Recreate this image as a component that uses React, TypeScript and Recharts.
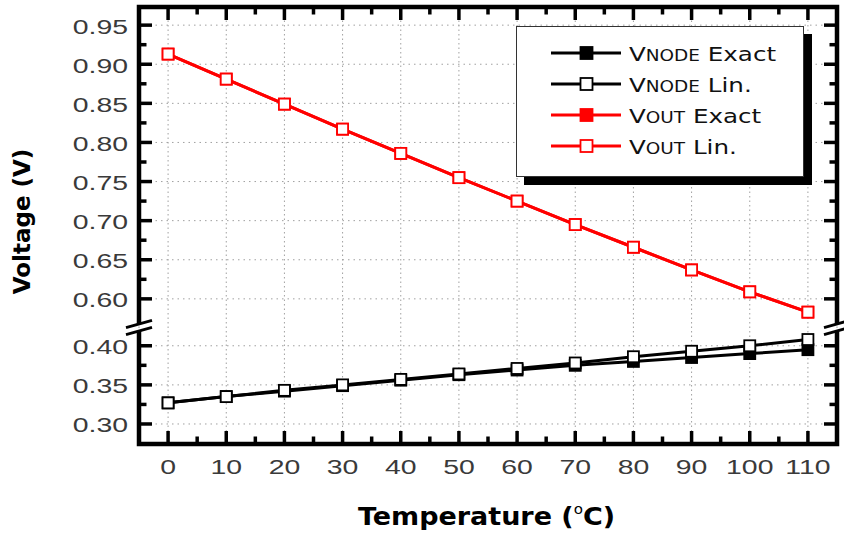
import React from "react";
import { CartesianGrid, Legend, Line, LineChart, ReferenceArea, XAxis, YAxis } from "recharts";

// temperature sweep (°C)
const TEMPS = [0, 10, 20, 30, 40, 50, 60, 70, 80, 90, 100, 110];

// voltages (V)
const VNODE_EXACT = [0.327, 0.335, 0.342, 0.349, 0.356, 0.363, 0.369, 0.375, 0.380, 0.385, 0.390, 0.395];
const VNODE_LIN = [0.327, 0.335, 0.343, 0.350, 0.357, 0.364, 0.371, 0.378, 0.386, 0.393, 0.400, 0.408];
const VOUT_EXACT = [0.913, 0.881, 0.849, 0.817, 0.786, 0.755, 0.725, 0.695, 0.666, 0.637, 0.609, 0.583];
const VOUT_LIN = [0.913, 0.881, 0.849, 0.817, 0.786, 0.755, 0.725, 0.695, 0.666, 0.637, 0.609, 0.583];

// axis ticks
const X_MAJOR = [0, 10, 20, 30, 40, 50, 60, 70, 80, 90, 100, 110];
const X_MINOR = [5, 15, 25, 35, 45, 55, 65, 75, 85, 95, 105];
const Y_MAJOR = [0.3, 0.35, 0.4, 0.6, 0.65, 0.7, 0.75, 0.8, 0.85, 0.9, 0.95];
const Y_MINOR = [0.325, 0.375, 0.625, 0.675, 0.725, 0.775, 0.825, 0.875, 0.925];

// legend labels (V + small caps part + rest)
const LEGEND_MAIN = ["V", "V", "V", "V"];
const LEGEND_SUB = ["NODE", "NODE", "OUT", "OUT"];
const LEGEND_REST = [" Exact", " Lin.", " Exact", " Lin."];
const LEGEND_COLOR = ["#000000", "#000000", "#ff0000", "#ff0000"];
const LEGEND_FILLED = [true, false, true, false];

// broken axis: values above 0.5 are shifted down so both parts share one scale
const BREAK_SHIFT = 0.14;
const BREAK_AT = 0.4234;
const Y_MIN = 0.2744;
const Y_MAX = 0.8332;
const toAxis = (v: number) => (v > 0.5 ? v - BREAK_SHIFT : v);
const fromAxis = (t: number) => (t > BREAK_AT ? t + BREAK_SHIFT : t);

const W = 844;
const H = 535;
const LEFT_W = 139;
const RIGHT_W = 7;
const TOP_H = 7;
const BOTTOM_H = 91;
const PLOT_L = LEFT_W;
const PLOT_R = W - RIGHT_W;
const PLOT_T = TOP_H;
const PLOT_B = H - BOTTOM_H;

const TICK_FONT = "'Liberation Sans', Arial, sans-serif";
const TITLE_FONT = "'DejaVu Sans', Verdana, sans-serif";
const FRAME_W = 4.5;
const GAP = 3.5;

const rows = TEMPS.map((t, i) => ({
  temp: t,
  vnodeExact: VNODE_EXACT[i],
  vnodeLin: VNODE_LIN[i],
  voutExact: toAxis(VOUT_EXACT[i]),
  voutLin: toAxis(VOUT_LIN[i]),
}));

const isMajorY = (t: number) => {
  const v = fromAxis(t) * 20;
  return Math.abs(v - Math.round(v)) < 1e-6;
};

const YLabelTick = (p: any) => (
  <text
    transform={`translate(${p.x},${p.y + 8.5}) scale(1.42,1)`}
    textAnchor="end"
    fontSize={20}
    fontFamily={TICK_FONT}
    fill="#3a3a3a"
  >
    {fromAxis(p.payload.value).toFixed(2)}
  </text>
);

const XLabelTick = (p: any) => (
  <text
    transform={`translate(${p.x},${p.y + 30}) scale(1.42,1)`}
    textAnchor="middle"
    fontSize={20}
    fontFamily={TICK_FONT}
    fill="#3a3a3a"
  >
    {p.payload.value}
  </text>
);

// inward ticks on top and bottom edges
const XEdgeTick = (p: any) => {
  const len = p.payload.value % 10 === 0 ? 13 : 7.5;
  return (
    <g stroke="#000" strokeWidth={3.5}>
      <line x1={p.x} x2={p.x} y1={PLOT_T} y2={PLOT_T + len} />
      <line x1={p.x} x2={p.x} y1={PLOT_B} y2={PLOT_B - len} />
    </g>
  );
};

// inward ticks on left and right edges
const YEdgeTick = (p: any) => {
  const len = isMajorY(p.payload.value) ? 13 : 7.5;
  return (
    <g stroke="#000" strokeWidth={3.5}>
      <line x1={PLOT_L} x2={PLOT_L + len} y1={p.y} y2={p.y} />
      <line x1={PLOT_R} x2={PLOT_R - len} y1={p.y} y2={p.y} />
    </g>
  );
};

const slashes = (cx: number, cy: number) => (
  <g stroke="#000" strokeWidth={2.8}>
    <line x1={cx - 13} y1={cy - GAP + 3.6} x2={cx + 13} y2={cy - GAP - 3.6} />
    <line x1={cx - 13} y1={cy + GAP + 3.6} x2={cx + 13} y2={cy + GAP - 3.6} />
  </g>
);

const LowerFrame = (p: any) => {
  const { x, y, width: w, height: h } = p;
  return (
    <g>
      <path
        d={`M${x},${y + GAP} L${x},${y + h} L${x + w},${y + h} L${x + w},${y + GAP}`}
        fill="none"
        stroke="#000"
        strokeWidth={FRAME_W}
      />
      {slashes(x, y)}
      {slashes(x + w, y)}
    </g>
  );
};

const UpperFrame = (p: any) => {
  const { x, y, width: w, height: h } = p;
  return (
    <path
      d={`M${x},${y + h - GAP} L${x},${y} L${x + w},${y} L${x + w},${y + h - GAP}`}
      fill="none"
      stroke="#000"
      strokeWidth={FRAME_W}
    />
  );
};

const squareDot = (fill: string, stroke: string) => (p: any) => {
  if (p.cx == null || p.cy == null) return <g key={`e-${p.index}`} />;
  return (
    <rect
      key={`d-${p.index}`}
      x={p.cx - 5.5}
      y={p.cy - 5.5}
      width={11}
      height={11}
      fill={fill}
      stroke={stroke}
      strokeWidth={1.8}
    />
  );
};

const XTitle = (p: any) => {
  const vb = p.viewBox;
  const cx = vb.x + vb.width / 2 - 1.5;
  return (
    <text
      transform={`translate(${cx},${vb.y + 81}) scale(1.08,1)`}
      textAnchor="middle"
      fontSize={25}
      fontWeight="bold"
      fontFamily={TITLE_FONT}
      fill="#000"
    >
      Temperature (
      <tspan fontSize={14} fontWeight="normal" dy={-11}>o</tspan>
      <tspan dy={11}>C)</tspan>
    </text>
  );
};

const YTitle = (p: any) => {
  const vb = p.viewBox;
  const bx = vb.x + 30;
  const cy = vb.y + vb.height / 2 - 4;
  return (
    <text
      transform={`translate(${bx},${cy}) rotate(-90)`}
      textAnchor="middle"
      fontSize={23}
      fontWeight="bold"
      fontFamily={TITLE_FONT}
      fill="#000"
    >
      Voltage (V)
    </text>
  );
};

const LegendBox = () => (
  <div
    style={{
      width: 288,
      height: 151,
      boxSizing: "border-box",
      border: "1.5px solid #333",
      background: "#fff",
      boxShadow: "8px 8px 0 #000",
    }}
  >
    <svg width={285} height={148} style={{ display: "block" }}>
      {LEGEND_MAIN.map((m, i) => {
        const cy = 26 + 31 * i;
        const c = LEGEND_COLOR[i];
        return (
          <g key={i}>
            <line x1={34} x2={104} y1={cy} y2={cy} stroke={c} strokeWidth={3} />
            <rect
              x={63.5}
              y={cy - 6}
              width={12}
              height={12}
              fill={LEGEND_FILLED[i] ? c : "#fff"}
              stroke={c}
              strokeWidth={1.8}
            />
            <text
              transform={`translate(112,${cy + 7.5}) scale(1.23,1)`}
              fontSize={20}
              fontFamily={TITLE_FONT}
              fill="#111"
            >
              {m}
              <tspan fontSize={15}>{LEGEND_SUB[i]}</tspan>
              {LEGEND_REST[i]}
            </text>
          </g>
        );
      })}
    </svg>
  </div>
);

export default function App() {
  return (
    <div style={{ width: W, height: H, position: "relative", background: "#fff" }}>
      <style>{"body{margin:0;background:#fff}"}</style>
      <LineChart width={W} height={H} data={rows} margin={{ top: 0, right: 0, bottom: 0, left: 0 }}>
        <CartesianGrid horizontal vertical={false} stroke="#a0a0a0" strokeDasharray="1.5 4" />
        <CartesianGrid horizontal={false} vertical stroke="#a0a0a0" strokeDasharray="1.5 3" />
        <XAxis
          dataKey="temp"
          type="number"
          domain={[-5, 115]}
          ticks={X_MAJOR}
          interval={0}
          height={BOTTOM_H}
          axisLine={false}
          tickLine={false}
          tickSize={0}
          tickMargin={0}
          tick={XLabelTick}
          label={XTitle}
          allowDataOverflow
        />
        <XAxis
          xAxisId="t"
          dataKey="temp"
          type="number"
          orientation="top"
          domain={[-5, 115]}
          ticks={[...X_MAJOR, ...X_MINOR]}
          interval={0}
          height={TOP_H}
          axisLine={false}
          tickLine={false}
          tickSize={0}
          tickMargin={0}
          tick={XEdgeTick}
          allowDataOverflow
        />
        <YAxis
          type="number"
          domain={[Y_MIN, Y_MAX]}
          ticks={Y_MAJOR.map(toAxis)}
          interval={0}
          width={LEFT_W}
          axisLine={false}
          tickLine={false}
          tickSize={0}
          tickMargin={11}
          tick={YLabelTick}
          label={YTitle}
          allowDataOverflow
        />
        <YAxis
          yAxisId="r"
          type="number"
          orientation="right"
          domain={[Y_MIN, Y_MAX]}
          ticks={[...Y_MAJOR, ...Y_MINOR].map(toAxis)}
          interval={0}
          width={RIGHT_W}
          axisLine={false}
          tickLine={false}
          tickSize={0}
          tickMargin={0}
          tick={YEdgeTick}
          allowDataOverflow
        />
        <ReferenceArea x1={-5} x2={115} y1={Y_MIN} y2={BREAK_AT} ifOverflow="visible" shape={LowerFrame} />
        <ReferenceArea x1={-5} x2={115} y1={BREAK_AT} y2={Y_MAX} ifOverflow="visible" shape={UpperFrame} />
        <Line
          dataKey="vnodeExact"
          name="VNODE Exact"
          stroke="#000"
          strokeWidth={3}
          dot={squareDot("#000", "#000")}
          activeDot={false}
          isAnimationActive={false}
        />
        <Line
          dataKey="vnodeLin"
          name="VNODE Lin."
          stroke="#000"
          strokeWidth={3}
          dot={squareDot("#fff", "#000")}
          activeDot={false}
          isAnimationActive={false}
        />
        <Line
          dataKey="voutExact"
          name="VOUT Exact"
          stroke="#ff0000"
          strokeWidth={3}
          dot={squareDot("#ff0000", "#ff0000")}
          activeDot={false}
          isAnimationActive={false}
        />
        <Line
          dataKey="voutLin"
          name="VOUT Lin."
          stroke="#ff0000"
          strokeWidth={3}
          dot={squareDot("#fff", "#ff0000")}
          activeDot={false}
          isAnimationActive={false}
        />
        <Legend
          layout="horizontal"
          verticalAlign="middle"
          align="center"
          content={LegendBox}
          wrapperStyle={{ left: 516, top: 26, width: 288, height: 151 }}
        />
      </LineChart>
    </div>
  );
}
